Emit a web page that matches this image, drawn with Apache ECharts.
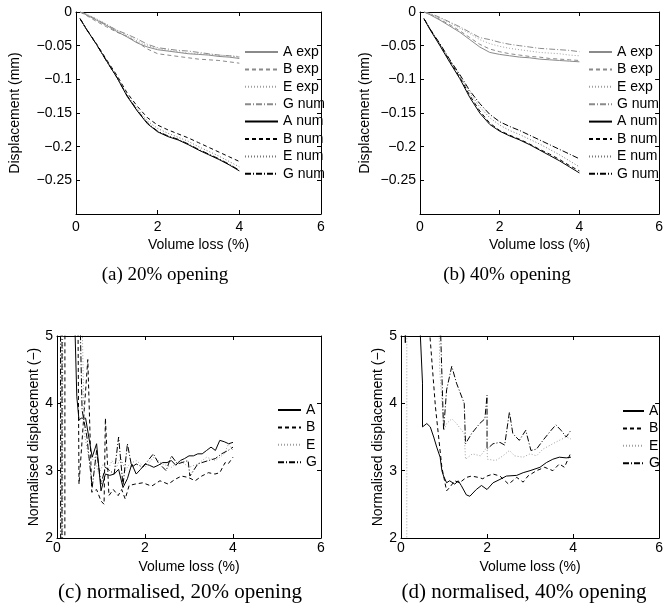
<!DOCTYPE html>
<html><head><meta charset="utf-8">
<script src="https://cdn.jsdelivr.net/npm/echarts@6/dist/echarts.min.js"></script>
<style>html,body{margin:0;padding:0;background:#fff}#c{width:666px;height:613px}</style>
</head><body><div id="c"></div>
<script>
// ---------- data ----------
// shared volume-loss grid for panels (a) and (b)
const volTop = [0.1,0.25,0.5,0.75,1.0,1.25,1.5,1.75,2.0,2.25,2.5,2.75,3.0,3.25,3.5,3.75,4.0];

// (a) 20% opening  displacement (mm)
const a_Aexp = [0,-0.004,-0.012,-0.02,-0.029,-0.037,-0.046,-0.052,-0.056,-0.058,-0.06,-0.062,-0.063,-0.064,-0.066,-0.067,-0.069];
const a_Bexp = [0,-0.005,-0.014,-0.022,-0.03,-0.036,-0.045,-0.055,-0.062,-0.064,-0.066,-0.068,-0.07,-0.071,-0.072,-0.074,-0.076];
const a_Eexp = [0,-0.003,-0.01,-0.018,-0.027,-0.035,-0.043,-0.05,-0.054,-0.057,-0.059,-0.061,-0.062,-0.063,-0.064,-0.065,-0.066];
const a_Gexp = [0,-0.003,-0.011,-0.019,-0.027,-0.033,-0.04,-0.048,-0.053,-0.055,-0.057,-0.058,-0.06,-0.062,-0.064,-0.065,-0.067];
const a_Anum = [-0.01,-0.025,-0.048,-0.073,-0.097,-0.125,-0.147,-0.166,-0.178,-0.185,-0.19,-0.197,-0.205,-0.212,-0.219,-0.227,-0.236];
const a_Bnum = [-0.01,-0.025,-0.047,-0.071,-0.094,-0.12,-0.14,-0.157,-0.168,-0.175,-0.181,-0.187,-0.194,-0.201,-0.208,-0.215,-0.222];
const a_Enum = [-0.01,-0.025,-0.048,-0.072,-0.096,-0.123,-0.144,-0.162,-0.173,-0.18,-0.186,-0.192,-0.2,-0.207,-0.214,-0.222,-0.23];
const a_Gnum = [-0.01,-0.025,-0.048,-0.073,-0.097,-0.124,-0.146,-0.165,-0.177,-0.184,-0.189,-0.196,-0.204,-0.211,-0.218,-0.226,-0.235];

// (b) 40% opening
const b_Aexp = [0,-0.004,-0.012,-0.021,-0.03,-0.041,-0.052,-0.06,-0.063,-0.065,-0.067,-0.068,-0.07,-0.071,-0.072,-0.073,-0.074];
const b_Bexp = [0,-0.003,-0.011,-0.019,-0.028,-0.038,-0.048,-0.055,-0.059,-0.062,-0.064,-0.066,-0.067,-0.069,-0.07,-0.071,-0.072];
const b_Eexp = [0,-0.003,-0.009,-0.016,-0.024,-0.032,-0.041,-0.047,-0.051,-0.054,-0.056,-0.058,-0.06,-0.061,-0.062,-0.064,-0.065];
const b_Gexp = [0,-0.002,-0.008,-0.015,-0.022,-0.03,-0.038,-0.041,-0.045,-0.048,-0.05,-0.052,-0.054,-0.055,-0.056,-0.057,-0.059];
const b_Anum = [-0.01,-0.026,-0.05,-0.075,-0.099,-0.127,-0.15,-0.167,-0.177,-0.184,-0.19,-0.197,-0.205,-0.213,-0.221,-0.23,-0.239];
const b_Bnum = [-0.01,-0.025,-0.049,-0.073,-0.097,-0.124,-0.147,-0.165,-0.176,-0.183,-0.189,-0.196,-0.204,-0.211,-0.219,-0.228,-0.236];
const b_Enum = [-0.01,-0.025,-0.048,-0.072,-0.095,-0.12,-0.141,-0.157,-0.168,-0.176,-0.182,-0.189,-0.196,-0.204,-0.212,-0.221,-0.23];
const b_Gnum = [-0.01,-0.025,-0.047,-0.071,-0.093,-0.117,-0.136,-0.152,-0.163,-0.17,-0.176,-0.183,-0.19,-0.197,-0.204,-0.211,-0.218];

// (c) normalised, 20% opening
const c_A_x = [0.35,0.45,0.5,0.55,0.65,0.8,0.9,1.0,1.1,1.2,1.3,1.4,1.5,1.6,1.7,1.8,1.9,2.0,2.1,2.2,2.3,2.4,2.5,2.6,2.7,2.8,2.9,3.0,3.1,3.2,3.3,3.4,3.5,3.6,3.7,3.8,3.9,4.0];
const c_A_y = [6.5,4.1,3.75,3.78,3.78,3.2,3.4,2.7,2.95,2.93,2.95,3.02,2.75,2.88,3.1,2.95,3.02,3.1,3.08,3.05,3.08,3.12,3.12,3.15,3.08,3.15,3.18,3.22,3.22,3.25,3.25,3.3,3.35,3.3,3.45,3.43,3.4,3.42];
const c_B_x = [0.17,0.19,0.45,0.5,0.7,0.79,0.9,1.0,1.07,1.1,1.18,1.28,1.39,1.47,1.55,1.64,1.77,1.95,2.15,2.34,2.53,2.68,2.83,2.98,3.14,3.29,3.44,3.59,3.7,3.82,3.89,4.0];
const c_B_y = [-20,30,8,2.8,4.65,2.68,2.72,2.55,2.5,3.78,2.63,2.72,2.63,2.72,2.58,2.78,2.8,2.82,2.77,2.85,2.8,2.87,2.92,2.9,2.85,2.92,2.97,2.95,2.97,3.12,3.1,3.2];
const c_E_x = [0.09,0.12,0.14,0.55,0.62,0.75,0.85,0.95,1.05,1.15,1.25,1.35,1.45,1.55,1.65,1.8,2.0,2.2,2.4,2.6,2.8,3.0,3.2,3.4,3.6,3.8,3.9,4.0];
const c_E_y = [30,-20,30,6,3.55,3.1,3.2,2.95,3.1,3.0,3.15,3.05,3.2,3.0,3.1,3.15,3.05,3.2,3.1,3.05,3.15,3.05,3.1,3.2,3.15,3.25,3.4,3.3];
const c_G_x = [0.06,0.1,0.13,0.5,0.57,0.68,0.8,0.9,1.0,1.1,1.2,1.3,1.4,1.5,1.6,1.7,1.8,1.95,2.19,2.3,2.48,2.6,2.74,2.98,3.02,3.2,3.44,3.6,3.74,3.89,4.0];
const c_G_y = [30,-20,30,6,3.9,3.5,2.75,3.3,2.8,3.05,3.0,2.95,3.5,2.78,3.4,3.05,3.1,3.05,3.25,3.12,3.0,3.22,3.1,3.15,2.92,3.1,3.15,3.18,3.25,3.3,3.35];

// (d) normalised, 40% opening
const d_A_x = [0.09,0.1,0.11,0.38,0.5,0.5,0.6,0.68,0.76,0.83,0.91,0.95,0.99,1.06,1.13,1.25,1.33,1.4,1.52,1.6,1.75,1.87,2.0,2.14,2.3,2.45,2.69,2.84,3.0,3.23,3.38,3.53,3.68,3.84,3.95];
const d_A_y = [30,4.9,30,6,4.3,3.65,3.7,3.65,3.5,3.35,3.2,3.0,2.92,2.82,2.85,2.8,2.85,2.78,2.64,2.62,2.72,2.78,2.72,2.82,2.87,2.92,2.93,2.97,3.0,3.05,3.12,3.17,3.2,3.19,3.2];
const d_B_x = [0.6,0.8,0.95,1.06,1.13,1.25,1.36,1.52,1.64,1.8,1.9,2.0,2.14,2.3,2.5,2.69,2.84,2.95,3.15,3.34,3.53,3.68,3.8,3.95];
const d_B_y = [5.6,3.95,3.05,2.7,2.75,2.85,2.82,2.9,2.92,2.9,2.88,2.92,2.95,2.92,2.8,2.9,2.83,2.92,3.0,3.05,3.0,3.1,3.05,3.27];
const d_E_x = [0.13,0.14,0.87,0.9,1.0,1.06,1.18,1.29,1.47,1.5,1.66,1.85,2.0,2.01,2.2,2.37,2.52,2.64,2.84,3.0,3.15,3.3,3.53,3.68,3.84,3.95];
const d_E_y = [-20,30,6,4.5,3.6,3.7,3.77,3.7,3.55,3.17,3.25,3.22,3.35,3.17,3.15,3.22,3.3,3.22,3.2,3.25,3.22,3.32,3.4,3.45,3.5,3.47];
const d_G_x = [0.9,0.99,1.06,1.18,1.29,1.47,1.5,1.64,1.83,1.95,2.0,2.0,2.14,2.3,2.41,2.52,2.6,2.75,2.9,3.02,3.15,3.3,3.49,3.6,3.72,3.84,3.95];
const d_G_y = [5.5,3.6,4.2,4.55,4.3,4.0,3.4,3.55,3.7,3.77,4.12,3.32,3.4,3.42,3.38,3.87,3.55,3.45,3.6,3.3,3.32,3.45,3.6,3.68,3.6,3.5,3.6];

// text
const xName = 'Volume loss (%)';
const yNameDisp = 'Displacement (mm)';
const yNameNorm = 'Normalised displacement (−)';
const captions = ['(a) 20% opening','(b) 40% opening','(c) normalised, 20% opening','(d) normalised, 40% opening'];
const legendTop = ['A exp','B exp','E exp','G num','A num','B num','E num','G num'];
const legendBot = ['A','B','E','G'];

// ---------- styling ----------
const SANS = '"Liberation Sans", Arial, Helvetica, sans-serif';
const SERIF = '"Liberation Serif", "Times New Roman", serif';
const GRAY = '#8a8a8a';
const DOTGRAY = '#a0a0a0';
const DASH = {solid:'solid', dash:[4,3], dot:[1,2], dashdot:[6,2,1,2]};

const grids = [
  {left:76, top:12, width:245, height:202},
  {left:420, top:12, width:245.5, height:202},
  {left:57, top:336, width:264, height:202},
  {left:401, top:336, width:264.5, height:202}
];

function fmtDisp(v){
  if (Math.abs(v+0.3) < 1e-9) return '';
  const r = Math.round(v*100)/100;
  return r === 0 ? '0' : String(r).replace('-','−');
}

const xAxes = [], yAxes = [];
grids.forEach((g,i)=>{
  const base = {gridIndex:i, type:'value', min:0, max:6, interval:2,
    axisLine:{show:true, onZero:false, lineStyle:{color:'#000', width:1}},
    axisTick:{show:true, inside:true, length:4, lineStyle:{color:'#000'}},
    splitLine:{show:false}};
  xAxes.push(Object.assign({}, base, {position:'bottom',
    axisLabel:{color:'#000', fontSize:14, fontFamily:SANS, margin:i<2?6:3},
    name:xName, nameLocation:'middle', nameGap:i<2?24:22,
    nameTextStyle:{color:'#000', fontSize:14, fontFamily:SANS}}));
  xAxes.push(Object.assign({}, base, {position:'top', axisLabel:{show:false}}));
  const top = i<2;
  const ybase = {gridIndex:i, type:'value',
    min: top ? -0.3 : 2, max: top ? 0 : 5, interval: top ? 0.05 : 1,
    axisLine:{show:true, onZero:false, lineStyle:{color:'#000', width:1}},
    axisTick:{show:true, inside:true, length:4, lineStyle:{color:'#000'}},
    splitLine:{show:false}};
  yAxes.push(Object.assign({}, ybase, {position:'left',
    axisLabel:{color:'#000', fontSize:14, fontFamily:SANS, margin:4, formatter: top ? fmtDisp : (v=>String(v))},
    name: top ? yNameDisp : yNameNorm, nameLocation:'middle',
    nameGap: i===0 ? 54 : (i===1 ? 48 : 16),
    nameTextStyle:{color:'#000', fontSize:14, fontFamily:SANS}}));
  yAxes.push(Object.assign({}, ybase, {position:'right', axisLabel:{show:false}}));
});

const series = [];
function add(name, gi, xs, ys, color, dash){
  series.push({name, type:'line', xAxisIndex:2*gi, yAxisIndex:2*gi,
    data: xs.map((x,k)=>[x, ys[k]]), symbol:'none', showSymbol:false, clip:true,
    silent:true, animation:false,
    lineStyle:{color, width:1, type:dash}, itemStyle:{color}});
}
const topKeys = ['Aexp','Bexp','Eexp','Gexp','Anum','Bnum','Enum','Gnum'];
const topStyle = [[GRAY,DASH.solid],[GRAY,DASH.dash],[DOTGRAY,DASH.dot],[GRAY,DASH.dashdot],
                  ['#000',DASH.solid],['#000',DASH.dash],['#777',DASH.dot],['#000',DASH.dashdot]];
const aData = [a_Aexp,a_Bexp,a_Eexp,a_Gexp,a_Anum,a_Bnum,a_Enum,a_Gnum];
const bData = [b_Aexp,b_Bexp,b_Eexp,b_Gexp,b_Anum,b_Bnum,b_Enum,b_Gnum];
topKeys.forEach((k,j)=>{
  add('a|'+legendTop[j]+'|'+j, 0, volTop, aData[j], topStyle[j][0], topStyle[j][1]);
  add('b|'+legendTop[j]+'|'+j, 1, volTop, bData[j], topStyle[j][0], topStyle[j][1]);
});
const botStyle = [['#000',DASH.solid],['#000',DASH.dash],[DOTGRAY,DASH.dot],['#000',DASH.dashdot]];
const cData = [[c_A_x,c_A_y],[c_B_x,c_B_y],[c_E_x,c_E_y],[c_G_x,c_G_y]];
const dData = [[d_A_x,d_A_y],[d_B_x,d_B_y],[d_E_x,d_E_y],[d_G_x,d_G_y]];
legendBot.forEach((n,j)=>{
  add('c|'+n+'|'+j, 2, cData[j][0], cData[j][1], botStyle[j][0], botStyle[j][1]);
  add('d|'+n+'|'+j, 3, dData[j][0], dData[j][1], botStyle[j][0], botStyle[j][1]);
});

function mkLegend(prefix, names, left, top, w){
  return {data: names.map((n,j)=>prefix+'|'+n+'|'+j), orient:'vertical', left, top,
    itemWidth:w, itemHeight:10, itemGap:3.4, padding:0, selectedMode:false,
    itemStyle:{opacity:0},
    formatter: s => s.split('|')[1],
    textStyle:{color:'#000', fontSize:14, fontFamily:SANS, lineHeight:14}};
}

const capPos = [[165,275],[507,275],[180,592],[524,592]];
const capSize = [19,19,21,21];
const option = {
  backgroundColor:'#fff',
  animation:false,
  grid: grids,
  xAxis: xAxes,
  yAxis: yAxes,
  legend: [
    mkLegend('a', legendTop, 244, 45, 33),
    mkLegend('b', legendTop, 588, 45, 23),
    mkLegend('c', legendBot, 277, 403, 23),
    mkLegend('d', legendBot, 622, 404, 21)
  ],
  graphic: captions.map((t,i)=>({type:'text', x:capPos[i][0], y:capPos[i][1], silent:true,
    style:{text:t, fill:'#000', font:capSize[i]+'px '+SERIF, textAlign:'center', textVerticalAlign:'middle'}})),
  series
};
const chart = echarts.init(document.getElementById('c'), null, {renderer:'canvas'});
chart.setOption(option);
</script>
</body></html>
